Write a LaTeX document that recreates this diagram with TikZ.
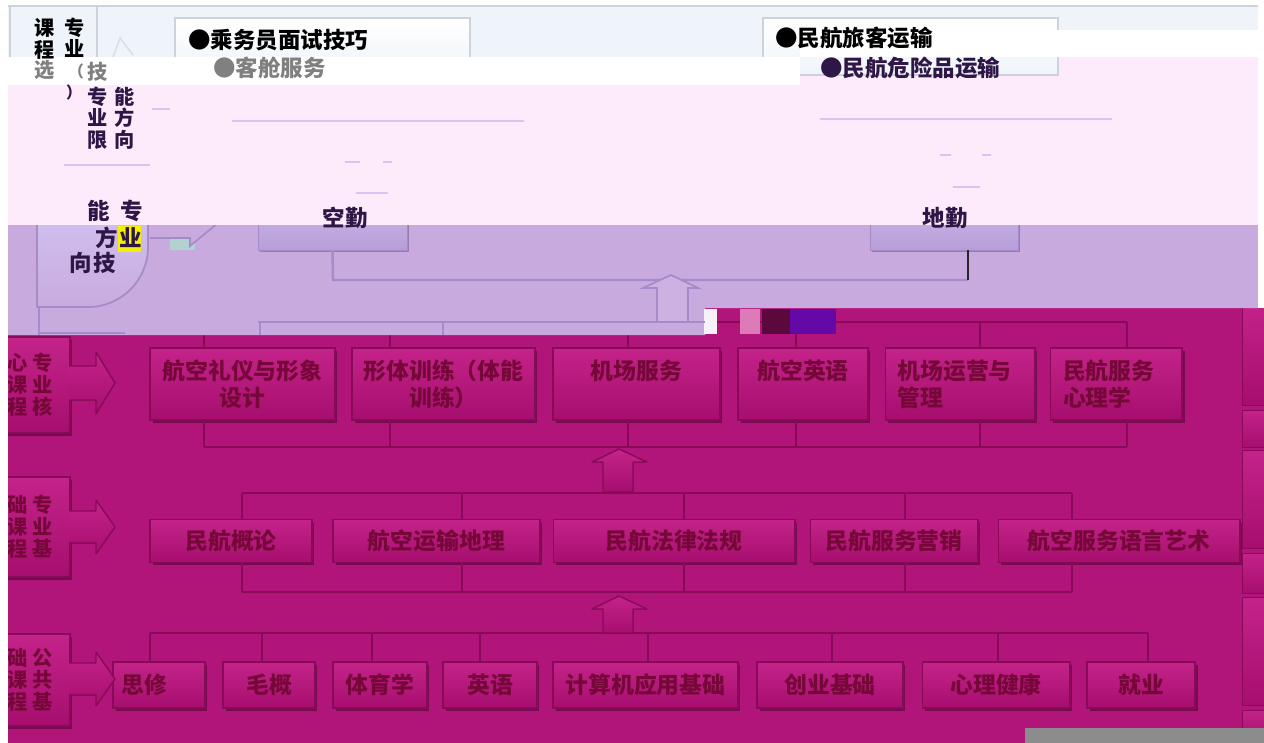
\documentclass[tikz,border=0pt]{standalone}
\usepackage{fontspec}
\newfontfamily\cjk{Noto Sans CJK SC}
\usetikzlibrary{shadows}
\definecolor{magbg}{HTML}{B1157A}
\definecolor{magtop}{HTML}{C42389}
\definecolor{magbot}{HTML}{A60E6E}
\definecolor{magline}{HTML}{880A58}
\definecolor{magtext}{HTML}{760839}
\definecolor{lavbg}{HTML}{C9AADF}
\definecolor{lavline}{HTML}{A58CC8}
\definecolor{lavtop}{HTML}{CDB6E8}
\definecolor{lavbot}{HTML}{B69DD8}
\definecolor{pinkbg}{HTML}{FDEBFC}
\definecolor{pinkline}{HTML}{D8C3F2}
\definecolor{bluebg}{HTML}{EEF4FA}
\definecolor{blueline}{HTML}{CDD3DB}
\definecolor{zitext}{HTML}{2E1747}
\definecolor{graybar}{HTML}{8C8C8C}
\tikzset{
  kecheng/.style={draw=magline, line width=0.6pt, top color=magtop, bottom color=magbot,
    inner sep=0pt, align=center, text=magtext, font=\cjk\bfseries\fontsize{13}{15.3}\selectfont,
    drop shadow={shadow xshift=0.05cm, shadow yshift=-0.06cm, opacity=0.35, fill=black}},
  leibie/.style={kecheng, minimum width=1.6cm, font=\cjk\bfseries\fontsize{11.5}{12.5}\selectfont},
  zongxian/.style={draw=magline, line width=1.4pt},
  jiantou/.style={top color=magtop, bottom color=magbot, draw=magline, line width=0.8pt, line join=round},
  qinwu/.style={draw=lavline, top color=lavtop, bottom color=lavbot, inner sep=0pt,
    drop shadow={shadow xshift=0.04cm, shadow yshift=-0.05cm, opacity=0.25, fill=black}},
  lanxian/.style={draw=lavline, line width=1.4pt},
  fenxian/.style={draw=pinkline, line width=0.8pt},
  hei/.style={font=\cjk\bfseries\fontsize{12.8}{13}\selectfont, inner sep=0pt, text=black},
  shu/.style={font=\cjk\bfseries\fontsize{11.5}{12.2}\selectfont, inner sep=0pt, align=center, text=black}
}
\begin{document}
\begin{tikzpicture}[x=0.02cm, y=-0.02cm]
\useasboundingbox (0,0) rectangle (1264,743);
\fill[white] (0,0) rectangle (1264,743); % page
\fill[magbg] (8,300) rectangle (1264,743); % magenta band

% ---- core courses
\node[kecheng, minimum width=3.70cm, minimum height=1.44cm] (k1) at (242.5,384) {航空礼仪与形象\\设计};
\node[kecheng, minimum width=3.66cm, minimum height=1.44cm] (k2) at (443.5,384) {形体训练（体能\\训练）};
\node[kecheng, minimum width=3.34cm, minimum height=1.44cm] (k3) at (636.5,384) {机场服务\\\phantom{机}};
\node[kecheng, minimum width=2.60cm, minimum height=1.44cm] (k4) at (803,384) {航空英语\\\phantom{机}};
\node[kecheng, minimum width=3.00cm, minimum height=1.44cm, text width=2.50cm, align=left] (k5) at (960,384) {机场运营与\\管理};
\node[kecheng, minimum width=2.64cm, minimum height=1.44cm, text width=2.12cm, align=left] (k6) at (1116,384) {民航服务\\心理学};
\coordinate (kl) at (204,322); \coordinate (kr) at (1127,322);
\coordinate (kbl) at (204,447); \coordinate (kbr) at (1127,447);
\draw[zongxian] (kl) -- (kr); % core top bus
\draw[zongxian] (kbl) -- (kbr); % core bottom bus
\foreach \x/\n in {204/k1,390/k2,628/k3,796/k4,980/k5,1127/k6}{
  \coordinate (tp) at (\x,322);
  \coordinate (bt) at (\x,447);
  \draw[zongxian] (tp) -- (tp |- \n.north);
  \draw[zongxian] (bt) -- (bt |- \n.south);
}

% ---- professional basics
\node[kecheng, minimum width=3.24cm, minimum height=0.86cm] (j1) at (231,541) {民航概论};
\node[kecheng, minimum width=4.14cm, minimum height=0.86cm] (j2) at (436.5,541) {航空运输地理};
\node[kecheng, minimum width=4.84cm, minimum height=0.86cm] (j3) at (674,541) {民航法律法规};
\node[kecheng, minimum width=3.36cm, minimum height=0.86cm] (j4) at (894,541) {民航服务营销};
\node[kecheng, minimum width=4.84cm, minimum height=0.86cm] (j5) at (1119,541) {航空服务语言艺术};
\coordinate (jl) at (242,493); \coordinate (jr) at (1072,493);
\coordinate (jbl) at (242,592); \coordinate (jbr) at (1072,592);
\draw[zongxian] (jl) -- (jr); % basics top bus
\draw[zongxian] (jbl) -- (jbr); % basics bottom bus
\foreach \x/\n in {242/j1,462/j2,684/j3,905/j4,1072/j5}{
  \coordinate (tp) at (\x,493);
  \coordinate (bt) at (\x,592);
  \draw[zongxian] (tp) -- (tp |- \n.north);
  \draw[zongxian] (bt) -- (bt |- \n.south);
}

% ---- public basics
\node[kecheng, minimum width=1.84cm, minimum height=0.92cm, text width=1.5cm, align=left] (g1) at (159,685) {思修};
\node[kecheng, minimum width=1.84cm, minimum height=0.92cm] (g2) at (269,685) {毛概};
\node[kecheng, minimum width=1.88cm, minimum height=0.92cm] (g3) at (380,685) {体育学};
\node[kecheng, minimum width=1.88cm, minimum height=0.92cm] (g4) at (490,685) {英语};
\node[kecheng, minimum width=3.70cm, minimum height=0.92cm] (g5) at (645.5,685) {计算机应用基础};
\node[kecheng, minimum width=2.92cm, minimum height=0.92cm] (g6) at (830,685) {创业基础};
\node[kecheng, minimum width=2.96cm, minimum height=0.92cm] (g7) at (996,685) {心理健康};
\node[kecheng, minimum width=2.16cm, minimum height=0.92cm] (g8) at (1141,685) {就业};
\coordinate (gl) at (150,633); \coordinate (gr) at (1148,633);
\draw[zongxian] (gl) -- (gr); % public top bus
\foreach \x/\n in {150/g1,262/g2,372/g3,480/g4,648/g5,832/g6,998/g7,1148/g8}{
  \coordinate (tp) at (\x,633);
  \draw[zongxian] (tp) -- (tp |- \n.north);
}

% ---- up arrows
\filldraw[jiantou] (603,492) -- (603,462) -- (592,462) -- (619,449) -- (647,462) -- (633,462) -- (633,492) -- cycle; % up.1
\filldraw[jiantou] (603,633) -- (603,609) -- (592,609) -- (619,596) -- (647,609) -- (633,609) -- (633,633) -- cycle; % up.2

% ---- row labels
\node[leibie, minimum height=1.92cm] (l1) at (30,385) {心\hspace{2.5pt}专\\课\hspace{2.5pt}业\\程\hspace{2.5pt}核};
\node[leibie, minimum height=2.00cm] (l2) at (30,527) {础\hspace{2.5pt}专\\课\hspace{2.5pt}业\\程\hspace{2.5pt}基};
\node[leibie, minimum height=1.84cm] (l3) at (30,680) {础\hspace{2.5pt}公\\课\hspace{2.5pt}共\\程\hspace{2.5pt}基};
\filldraw[jiantou] (69,366) -- (96,366) -- (96,352) -- (115,383) -- (96,414) -- (96,400) -- (69,400); % right.1
\filldraw[jiantou] (69,511) -- (96,511) -- (96,500) -- (115,527) -- (96,554) -- (96,543) -- (69,543); % right.2
\filldraw[jiantou] (69,663) -- (96,663) -- (96,652) -- (115,679) -- (96,706) -- (96,695) -- (69,695); % right.3

% ---- right edge column
\foreach \a/\b in {300/405,410/447,450/548,553/593,597/705,710/740}
  \draw[magline, top color=magtop, bottom color=magbot] (1242,\a) rectangle (1275,\b);

% ---- lavender band
\fill[lavbg] (8,225) -- (1258,225) -- (1258,308) -- (705,308) -- (705,335) -- (8,335) -- cycle;
\fill[white!85!lavbg] (704,309) rectangle (717,334); % noise
\fill[magtop!60!white] (740,309) rectangle (760,334); % noise
\fill[magbot!55!black] (762,309) rectangle (790,334); % noise
\fill[blue!40!magbot] (790,309) rectangle (836,334); % noise
\draw[lavline, line width=1pt, top color=lavbg!70!blue!40!white, bottom color=lavbg]
  (37,180) -- (148,180) -- (148,247) to[out=-90, in=0] (88,307) -- (37,307) -- cycle; % skill D
\fill[yellow!85!lime] (118,226) rectangle (141,252); % noise
\fill[pink!70!cyan] (170,226) rectangle (195,250); % noise
\draw[lavline, line width=1pt] (39,307) -- (39,335); % 
\draw[lavline, line width=1pt] (39,333) -- (125,333); %
\filldraw[lavline, fill=lavbg, line width=1pt] (150,200) -- (190,200) -- (190,190) -- (224,218) -- (190,246) -- (190,238) -- (150,238); % D arrow
\node[qinwu, minimum width=2.98cm, minimum height=0.92cm] (kq) at (332.5,227) {};
\node[qinwu, minimum width=2.96cm, minimum height=0.92cm] (dq) at (944,227) {};
\coordinate (q1) at (333,280); \coordinate (q2) at (968,280);
\draw[lanxian] (kq.south) -- (q1) -- (q2); % duty bus
\draw[black!85, line width=0.8pt] (q2) -- (q2 |- dq.south); % duty bus.r
\filldraw[lavline, fill=lavbg!92!white, line width=1pt] (657,322) -- (657,288) -- (643,288) -- (671,275) -- (698,288) -- (688,288) -- (688,322) -- cycle; % up.0
\coordinate (n1) at (258,322); \coordinate (n2) at (705,322);
\draw[lanxian] (n1) -- (n2); % lavender bus
\foreach \x in {260,443}{
  \coordinate (tp) at (\x,322);
  \draw[lanxian] (tp) -- ++(0,13);
}

% ---- pink band
\fill[pinkbg] (8,85) -- (800,85) -- (800,57) -- (1258,57) -- (1258,225) -- (8,225) -- cycle;
\draw[fenxian] (232,121) -- (524,121);
\draw[fenxian] (820,119) -- (1112,119);
\draw[fenxian] (64,165) -- (150,165);
\draw[fenxian] (152,109) -- (170,109);
\draw[fenxian] (345,162) -- (360,162);
\draw[fenxian] (383,162) -- (392,162);
\draw[fenxian] (356,193) -- (388,193);
\draw[fenxian] (940,155) -- (951,155);
\draw[fenxian] (982,155) -- (991,155);
\draw[fenxian] (953,187) -- (980,187);

% ---- top band
\fill[bluebg] (8,6) rectangle (1258,57);
\draw[blueline, line width=1pt] (8,6) -- (1258,6);
\draw[blueline, line width=1pt] (10,6) rectangle (97,60);
\draw[blueline!70!white, line width=1pt] (113,57) -- (120,38) -- (133,55);
\draw[blueline, line width=1pt, top color=white, bottom color=bluebg] (175,18) rectangle (470,75);
\draw[blueline, line width=1pt, top color=white, bottom color=bluebg] (763,18) rectangle (1058,75);
\fill[white] (8,57) rectangle (800,85); % white strip
\fill[white] (800,30) rectangle (1258,57); % white strip.r

% ---- texts above
\node[hei, anchor=west] (t1) at (188,40) {●乘务员面试技巧};
\node[hei, anchor=west, text=gray] (t2) at (213,68) {●客舱服务};
\node[hei, anchor=west] (t3) at (775,38) {●民航旅客运输};
\node[hei, anchor=west, text=zitext] (t4) at (820,68) {●民航危险品运输};
\node[shu] (c1) at (45,39) {课\\程};
\node[shu] (c2) at (75,38) {专\\业};
\node[shu, text=gray] (c3) at (45,70) {选};
\node[shu, text=gray, font=\cjk\bfseries\fontsize{9}{10}\selectfont] (c4) at (76,71) {（};
\node[shu, text=zitext, font=\cjk\bfseries\fontsize{9}{10}\selectfont] (c5) at (74,92) {）};
\node[shu, text=gray] (c6) at (98,72) {技};
\node[shu, text=zitext] (c7) at (98,118) {专\\业\\限};
\node[shu, text=zitext] (c8) at (125,118) {能\\方\\向};
\node[hei, text=zitext] (kqt) at (345,218) {空勤};
\node[hei, text=zitext] (dqt) at (945,218) {地勤};
\node[hei, text=zitext] (d1) at (115,211) {能\hspace{6pt}专};
\node[hei, text=zitext] (d2) at (119,238) {方\hspace{1pt}业};
\node[hei, text=zitext] (d3) at (93,263) {向\hspace{1pt}技};

% ---- edges
\fill[white] (0,0) rectangle (8,743);
\fill[white] (1258,0) rectangle (1264,308);
\fill[graybar] (1025,728) rectangle (1264,743); % gray bar
\end{tikzpicture}
\end{document}
